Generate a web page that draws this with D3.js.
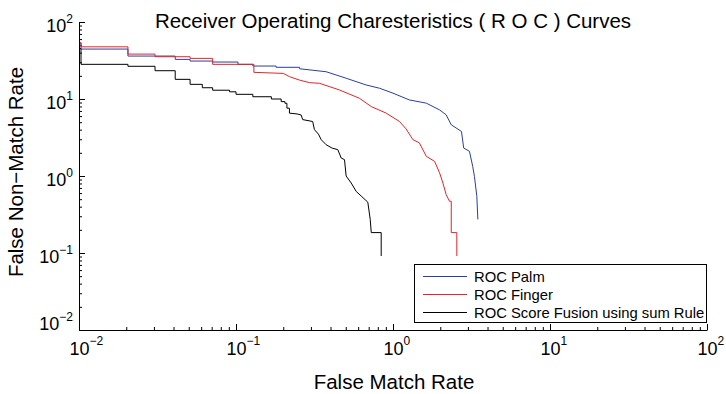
<!DOCTYPE html>
<html>
<head>
<meta charset="utf-8">
<script src="https://cdn.jsdelivr.net/npm/d3@7"></script>
<style>
body { margin: 0; background: #fff; }
text { font-family: "Liberation Sans", Arial, Helvetica, sans-serif; fill: #000; }
</style>
</head>
<body>
<div id="chart"></div>
<script>
// vertices [False Match Rate, False Non-Match Rate]
var palmData = [
  [0.0095, 53], [0.0103, 53], [0.0103, 44.5], [0.0205, 44.5], [0.0205, 36.1], [0.041, 36.1],
  [0.041, 32.7], [0.051, 32.7], [0.051, 31.1], [0.071, 31.1], [0.071, 30.2], [0.103, 30.2],
  [0.103, 28.2], [0.128, 28.2], [0.128, 26.8], [0.180, 26.8], [0.180, 25.8], [0.254, 25.8],
  [0.254, 24.7], [0.375, 22.6], [0.503, 18.6], [0.675, 15.2], [0.82, 13.8], [1.0, 11.9],
  [1.27, 9.73], [1.63, 8.83], [1.98, 7.22], [2.18, 6.23], [2.35, 4.62], [2.73, 3.79],
  [2.82, 2.31], [3.07, 2.09], [3.22, 1.33], [3.30, 0.99], [3.42, 0.546], [3.47, 0.273]
];
var fingerData = [
  [0.0095, 54], [0.0103, 54], [0.0103, 47.6], [0.0205, 47.6], [0.0205, 38.3], [0.0305, 38.3],
  [0.0305, 35.4], [0.051, 35.4], [0.051, 33.7], [0.071, 33.7], [0.071, 28.2], [0.130, 28.2],
  [0.130, 22.2], [0.20, 21.5], [0.219, 19.5], [0.254, 17.6], [0.294, 16.3], [0.340, 16.0],
  [0.456, 13.1], [0.612, 10.2], [0.727, 7.97], [0.905, 6.55], [1.10, 5.1], [1.21, 4.1],
  [1.34, 2.96], [1.47, 2.7], [1.63, 1.80], [1.84, 1.55], [1.98, 1.10], [2.08, 0.81],
  [2.18, 0.575], [2.29, 0.47], [2.35, 0.47], [2.35, 0.184], [2.55, 0.184], [2.55, 0.0915]
];
var fusionData = [
  [0.0095, 45], [0.0103, 45], [0.0103, 28.2], [0.0205, 28.2], [0.0205, 26.6], [0.0305, 26.6],
  [0.0305, 23.3], [0.041, 23.3], [0.041, 18.0], [0.051, 18.0], [0.051, 15.5], [0.061, 15.5],
  [0.061, 14.0], [0.071, 14.0], [0.071, 13.0], [0.091, 13.0], [0.091, 12.4], [0.1, 12.4],
  [0.1, 11.5], [0.128, 11.5], [0.128, 10.7], [0.168, 10.7], [0.168, 10.0], [0.194, 10.0],
  [0.194, 9.25], [0.205, 9.25], [0.205, 8.8], [0.211, 8.8], [0.211, 7.6], [0.219, 7.6],
  [0.219, 6.55], [0.245, 6.4], [0.26, 6.2], [0.266, 5.4], [0.308, 5.1], [0.316, 4.0],
  [0.335, 3.5], [0.349, 2.96], [0.375, 2.55], [0.41, 2.3], [0.445, 2.2], [0.468, 1.71],
  [0.491, 1.63], [0.503, 1.0], [0.542, 0.81], [0.583, 0.63], [0.627, 0.55], [0.691, 0.457],
  [0.716, 0.273], [0.727, 0.184], [0.841, 0.184], [0.841, 0.0915]
];

var seriesNames = ['ROC Palm', 'ROC Finger', 'ROC Score Fusion using sum Rule'];
var seriesColors = ['#2c3e9e', '#e3242b', '#000000'];
var decadeTicks = [0.01, 0.1, 1, 10, 100];
var decadeExps = ['\u22122', '\u22121', '0', '1', '2'];

var titleText = 'Receiver Operating Charesteristics ( R O C ) Curves';
var xLabel = 'False Match Rate', yLabel = 'False Non\u2212Match Rate';

var width = 726, height = 394;

var svg = d3.select('#chart').append('svg')
  .attr('width', width)
  .attr('height', height);

var x = d3.scaleLog().domain([0.01, 100]).range([79, 707]);
var y = d3.scaleLog().domain([0.01, 100]).range([330, 22]);

// decades plus 2..9 minor ticks
var allTicks = [];
decadeTicks.forEach(function(d, i) {
  allTicks.push(d);
  if (i < decadeTicks.length - 1) {
    for (var k = 2; k < 10; k++) allTicks.push(d * k);
  }
});
function isMajor(d) { return decadeTicks.indexOf(d) > -1; }
function expFor(d) { return decadeExps[decadeTicks.indexOf(d)]; }

var gx = svg.append('g')
  .attr('transform', 'translate(0,330)')
  .call(d3.axisBottom(x).tickValues(allTicks).tickSize(-3).tickSizeOuter(0).tickFormat(''));

var gy = svg.append('g')
  .attr('transform', 'translate(79,0)')
  .call(d3.axisLeft(y).tickValues(allTicks).tickSize(-3).tickSizeOuter(0).tickFormat(''));

[gx, gy].forEach(function(g) {
  g.select('.domain').attr('stroke', '#000');
  g.selectAll('.tick line').attr('stroke', '#000');
  g.selectAll('.tick text').remove();
});

gx.selectAll('.tick').filter(isMajor).select('line').attr('y2', -6);
gy.selectAll('.tick').filter(isMajor).select('line').attr('x2', 6);

var xt = gx.selectAll('.tick').filter(isMajor).append('text')
  .attr('x', -10).attr('y', 25)
  .attr('text-anchor', 'start')
  .style('font-size', '18px');
xt.append('tspan').text('10');
xt.append('tspan').attr('dy', -10).style('font-size', '12px').text(expFor);

var yt = gy.selectAll('.tick').filter(isMajor).append('text')
  .attr('x', -6)
  .attr('y', function(d) { return d === 0.01 ? -1 : 9; })
  .attr('text-anchor', 'end')
  .style('font-size', '18px');
yt.append('tspan').text('10');
yt.append('tspan').attr('dy', -8.5).style('font-size', '12px').text(expFor);

// curves
svg.append('clipPath').attr('id', 'plotclip')
  .append('rect').attr('x', 80).attr('y', 0).attr('width', 640).attr('height', 330);

var line = d3.line()
  .x(function(d) { return x(d[0]); })
  .y(function(d) { return y(d[1]); });

var gData = svg.append('g').attr('clip-path', 'url(#plotclip)');
[palmData, fingerData, fusionData].forEach(function(s, i) {
  gData.append('path')
    .datum(s)
    .attr('d', line)
    .attr('fill', 'none')
    .attr('stroke', seriesColors[i])
    .attr('stroke-width', 1);
});

// title and labels
svg.append('text')
  .attr('x', 393).attr('y', 28)
  .attr('text-anchor', 'middle')
  .style('font-size', '20.5px')
  .text(titleText);

svg.append('text')
  .attr('x', 394).attr('y', 389)
  .attr('text-anchor', 'middle')
  .style('font-size', '20.5px')
  .text(xLabel);

svg.append('text')
  .attr('transform', 'translate(23,172)rotate(-90)')
  .attr('text-anchor', 'middle')
  .style('font-size', '20.5px')
  .text(yLabel);

// legend
var legend = svg.append('g').attr('class', 'legend');
legend.append('rect')
  .attr('x', 414.5).attr('y', 264.5)
  .attr('width', 292).attr('height', 58)
  .attr('fill', '#fff').attr('stroke', '#000');

var items = legend.selectAll('g.item')
  .data(seriesNames)
  .enter().append('g')
  .attr('class', 'item')
  .attr('transform', function(d, i) { return 'translate(0,' + (276.5 + i * 18) + ')'; });

items.append('line')
  .attr('x1', 423).attr('x2', 467)
  .attr('stroke', function(d, i) { return seriesColors[i]; });

items.append('text')
  .attr('x', 474).attr('y', 5)
  .style('font-size', '14.8px')
  .text(function(d) { return d; });
</script>
</body>
</html>
